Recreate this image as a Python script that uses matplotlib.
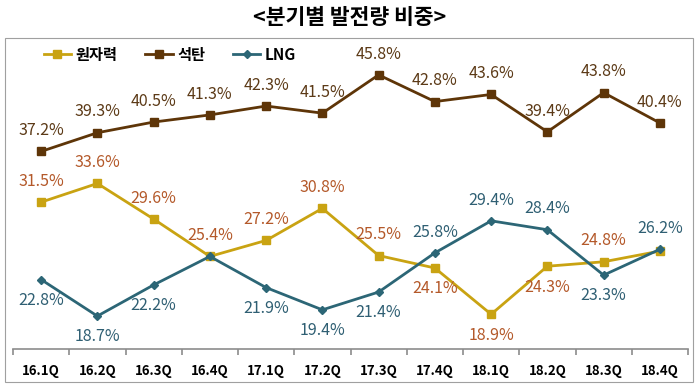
import numpy as np
import matplotlib
matplotlib.use('Agg')
from matplotlib import pyplot as plt
from matplotlib.patches import Rectangle

plt.rcParams['font.family'] = ['Noto Sans CJK KR', 'DejaVu Sans']

quarters = ['16.1Q', '16.2Q', '16.3Q', '16.4Q', '17.1Q', '17.2Q',
            '17.3Q', '17.4Q', '18.1Q', '18.2Q', '18.3Q', '18.4Q']
nuclear = [31.5, 33.6, 29.6, 25.4, 27.2, 30.8, 25.5, 24.1, 18.9, 24.3, 24.8, 26.0]
coal = [37.2, 39.3, 40.5, 41.3, 42.3, 41.5, 45.8, 42.8, 43.6, 39.4, 43.8, 40.4]
lng = [22.8, 18.7, 22.2, 25.4, 21.9, 19.4, 21.4, 25.8, 29.4, 28.4, 23.3, 26.2]

# label side per point: 1 above, -1 below, 0 none
nuclear_side = [1, 1, 1, 1, 1, 1, 1, -1, -1, -1, 1, 0]
coal_side = [1] * 12
lng_side = [-1, -1, -1, 0, -1, -1, -1, 1, 1, 1, -1, 1]

series = [
    ('원자력', nuclear, nuclear_side, '#C9A312', '#B4592A', 's', 6),
    ('석탄', coal, coal_side, '#5E3508', '#5C3A17', 's', 6),
    ('LNG', lng, lng_side, '#2C6676', '#2F5F73', 'D', 4.5),
]

fig = plt.figure(figsize=(7, 3.87), dpi=100)
fig.patches.append(Rectangle((5 / 700, 1 - 382 / 387), 688 / 700, 344 / 387,
                             transform=fig.transFigure, fill=False,
                             edgecolor='#A0A0A0', linewidth=0.8))
ax = fig.add_axes([13 / 700, 1 - 349 / 387, 675 / 700, 311.5 / 387])

x = np.arange(len(quarters))
for name, vals, sides, lc, tc, mk, ms in series:
    ax.plot(x, vals, color=lc, linewidth=2, marker=mk, markersize=ms, label=name)
    for xi, v, s in zip(x, vals, sides):
        if s == 0:
            continue
        ax.annotate('{:.1f}%'.format(v), (xi, v), xytext=(0, 15 * s),
                    textcoords='offset points', ha='center', va='center',
                    fontsize=11.5, fontweight='medium', color=tc)

ax.set_xlim(-0.5, len(quarters) - 0.5)
ax.set_ylim(15, 50)
for sp in ['top', 'left', 'right']:
    ax.spines[sp].set_visible(False)
ax.spines['bottom'].set_color('#8C8C8C')
ax.spines['bottom'].set_linewidth(1.2)
ax.set_yticks([])
ax.set_xticks(x)
ax.set_xticklabels(quarters, fontsize=9.5, fontweight='bold')
ax.tick_params(axis='x', which='major', length=0, pad=11)
ax.set_xticks(np.arange(len(quarters) + 1) - 0.5, minor=True)
ax.tick_params(axis='x', which='minor', length=4, color='#8C8C8C', width=1.2)

ax.legend(loc='upper left', bbox_to_anchor=(0.025, 1.015), ncol=3, frameon=False,
          prop={'size': 11, 'weight': 'bold'}, handlelength=1.8,
          handletextpad=0.3, columnspacing=1.8)

fig.text(0.5, 1 - 17 / 387, '<분기별 발전량 비중>', ha='center', va='center',
         fontsize=15.5, fontweight='bold')

plt.savefig('out.png', dpi=100)
